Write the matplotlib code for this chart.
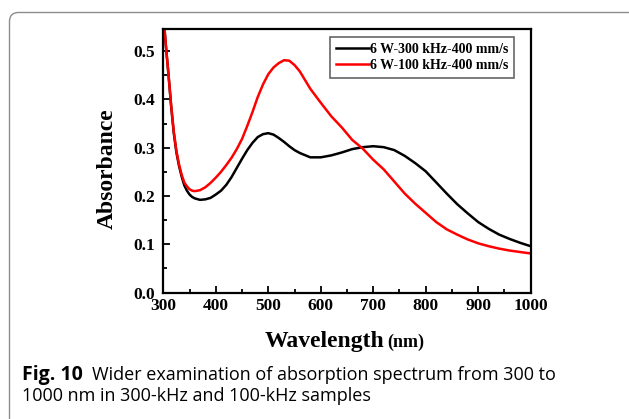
import matplotlib
matplotlib.use("Agg")
import matplotlib.pyplot as plt
from matplotlib.patches import FancyBboxPatch
from matplotlib.ticker import MultipleLocator

# ---- data ----
wl = [302, 305, 310, 315, 320, 325, 330, 335, 340, 345, 350, 355, 360, 370, 380,
      390, 400, 410, 420, 430, 440, 450, 460, 470, 480, 490, 500, 510, 520, 530,
      540, 550, 560, 580, 600, 620, 640, 660, 680, 700, 720, 740, 760, 780, 800,
      820, 840, 860, 880, 900, 920, 940, 960, 980, 1000]
abs_300k = [0.55, 0.51, 0.45, 0.385, 0.33, 0.29, 0.262, 0.240, 0.222, 0.211,
            0.203, 0.198, 0.195, 0.192, 0.193, 0.196, 0.203, 0.211, 0.223, 0.239,
            0.258, 0.277, 0.295, 0.310, 0.322, 0.328, 0.330, 0.327, 0.320, 0.312,
            0.303, 0.295, 0.289, 0.280, 0.280, 0.284, 0.290, 0.297, 0.301, 0.303,
            0.301, 0.295, 0.283, 0.268, 0.251, 0.228, 0.205, 0.183, 0.164, 0.146,
            0.132, 0.120, 0.111, 0.103, 0.096]
abs_100k = [0.55, 0.51, 0.45, 0.387, 0.333, 0.293, 0.265, 0.244, 0.228, 0.220,
            0.214, 0.211, 0.210, 0.212, 0.218, 0.227, 0.238, 0.250, 0.264, 0.279,
            0.297, 0.318, 0.345, 0.374, 0.405, 0.431, 0.452, 0.466, 0.475, 0.481,
            0.480, 0.471, 0.458, 0.422, 0.393, 0.365, 0.342, 0.316, 0.298, 0.275,
            0.255, 0.230, 0.205, 0.184, 0.165, 0.146, 0.131, 0.120, 0.110, 0.102,
            0.096, 0.091, 0.087, 0.084, 0.081]
labels = ["6 W-300 kHz-400 mm/s", "6 W-100 kHz-400 mm/s"]
xticks = [300, 400, 500, 600, 700, 800, 900, 1000]
yticks = [0.0, 0.1, 0.2, 0.3, 0.4, 0.5]

W, H = 629, 419
fig = plt.figure(figsize=(W / 100, H / 100), dpi=100)
serif = "Liberation Serif"

# rounded frame around figure panel
frame = FancyBboxPatch((9.5, -20), 700, H - 12.5 + 20,
                       boxstyle="round,pad=0,rounding_size=9",
                       transform=None, facecolor="none",
                       edgecolor="#8c8c8c", linewidth=1.0)
fig.add_artist(frame)

ax = fig.add_axes([163.3 / W, 1 - 292.6 / H, (530.7 - 163.3) / W, (292.6 - 29.3) / H])
ax.plot(wl, abs_300k, color="black", lw=1.8, label=labels[0])
ax.plot(wl, abs_100k, color="#ff0000", lw=1.8, label=labels[1])
ax.set_xlim(300, 1000)
ax.set_ylim(0, 0.545)
ax.set_xticks(xticks)
ax.set_yticks(yticks)
ax.set_xticklabels([str(v) for v in xticks])
ax.set_yticklabels([f"{v:.1f}" for v in yticks])
ax.xaxis.set_minor_locator(MultipleLocator(50))
ax.yaxis.set_minor_locator(MultipleLocator(0.05))
ax.tick_params(which="both", direction="in", top=False, right=False, width=1.3)
ax.tick_params(which="major", length=5, labelsize=12.5, pad=4)
ax.tick_params(which="minor", length=3)
ax.tick_params(axis="y", which="major", pad=6)
for lab in ax.get_xticklabels() + ax.get_yticklabels():
    lab.set_fontfamily(serif)
    lab.set_fontweight("bold")
for sp in ax.spines.values():
    sp.set_linewidth(1.6)

leg = ax.legend(loc="upper left", bbox_to_anchor=(330 / W, 1 - 37 / H),
                bbox_transform=fig.transFigure, borderaxespad=0,
                prop={"family": serif, "weight": "bold", "size": 10},
                handlelength=2.4, handletextpad=0.1, labelspacing=0.25,
                borderpad=0.4, fancybox=False, framealpha=1)
leg.get_frame().set_edgecolor("#666666")
leg.get_frame().set_linewidth(1.2)

# axis labels
fig.text(113 / W, 1 - 169 / H, "Absorbance", rotation=90, rotation_mode="anchor",
         ha="center", va="baseline", family=serif, weight="bold", size=17)
fig.text(265 / W, 1 - 347 / H, "Wavelength", ha="left", va="baseline",
         family=serif, weight="bold", size=17)
fig.text(387 / W, 1 - 347 / H, "(nm)", ha="left", va="baseline",
         family=serif, weight="bold", size=13)

# caption
fig.canvas.draw()
r = fig.canvas.get_renderer()
cap_font = "Open Sans"
t1 = fig.text(22 / W, 1 - 380 / H, "Fig. 10", ha="left", va="baseline",
              family=cap_font, weight="bold", size=14)
bb = t1.get_window_extent(renderer=r)
fig.text((bb.x1 + 9) / W, 1 - 380 / H,
         "Wider examination of absorption spectrum from 300 to",
         ha="left", va="baseline", family=cap_font, size=13)
fig.text(22 / W, 1 - 401 / H, "1000 nm in 300-kHz and 100-kHz samples",
         ha="left", va="baseline", family=cap_font, size=13)

fig.savefig("out.png", dpi=100)
